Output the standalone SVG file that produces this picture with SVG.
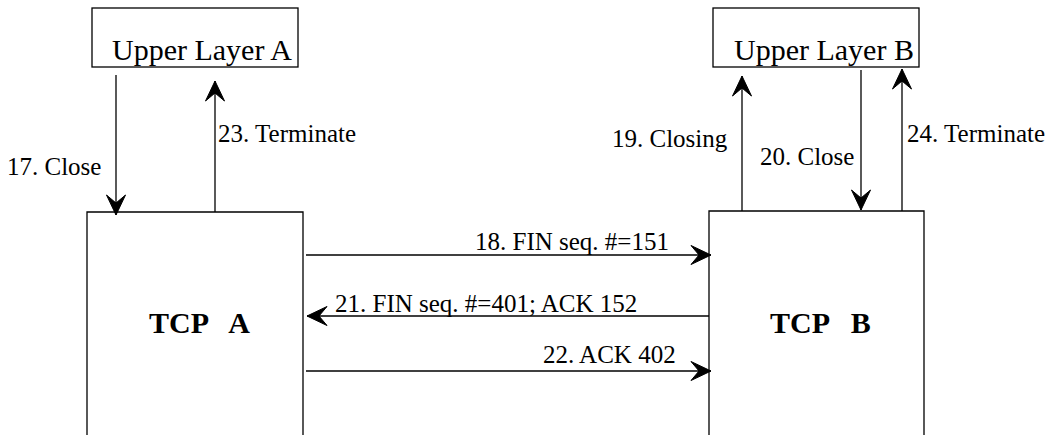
<svg xmlns="http://www.w3.org/2000/svg" width="1057" height="435" viewBox="0 0 1057 435">
<style>
.box{fill:none;stroke:#000;stroke-width:1.3}
.ln{fill:none;stroke:#000;stroke-width:1.3;marker-end:url(#ah)}
.lbl{font-family:"Liberation Serif","Times New Roman",serif;font-size:25px;fill:#000}
.ul{font-family:"Liberation Serif","Times New Roman",serif;font-size:30px;fill:#000}
.tcp{font-family:"Liberation Serif","Times New Roman",serif;font-size:30px;font-weight:bold;fill:#000;white-space:pre}
</style>
<defs>
<marker id="ah" markerUnits="userSpaceOnUse" markerWidth="24" markerHeight="24" refX="21" refY="11" orient="auto" viewBox="0 0 24 22">
<path d="M1,1.5 L21,11 L1,20.5 L9,11 Z" fill="#000" stroke="#000" stroke-width="1" stroke-linejoin="miter"/>
</marker>
</defs>
<rect width="1057" height="435" fill="#fff"/>
<g id="upperA">
<rect class="box" x="92" y="8" width="206" height="59"/>
<text class="ul" x="112" y="60">Upper Layer A</text>
</g>
<g id="upperB">
<rect class="box" x="713" y="8" width="206" height="59"/>
<text class="ul" x="734" y="60">Upper Layer B</text>
</g>
<g id="tcpA">
<path class="box" d="M87,436 V212 H303 V436"/>
<text class="tcp" x="149" y="333" xml:space="preserve">TCP   A</text>
</g>
<g id="tcpB">
<path class="box" d="M709,436 V211 H924 V436"/>
<text class="tcp" x="770" y="333" xml:space="preserve">TCP   B</text>
</g>
<g id="connectors">
<line class="ln" x1="116" y1="75" x2="116" y2="215"/>
<line class="ln" x1="215" y1="212" x2="215" y2="81"/>
<line class="ln" x1="742" y1="211" x2="742" y2="76"/>
<line class="ln" x1="861" y1="70" x2="861" y2="210"/>
<line class="ln" x1="902" y1="211" x2="902" y2="69"/>
<line class="ln" x1="306" y1="255" x2="711" y2="255"/>
<line class="ln" x1="709" y1="316" x2="307" y2="316"/>
<line class="ln" x1="306" y1="371" x2="711" y2="371"/>
<text class="lbl" x="7" y="175">17. Close</text>
<text class="lbl" x="218" y="142">23. Terminate</text>
<text class="lbl" x="612" y="147">19. Closing</text>
<text class="lbl" x="760" y="165">20. Close</text>
<text class="lbl" x="907" y="142">24. Terminate</text>
<text class="lbl" x="475" y="250">18. FIN seq. #=151</text>
<text class="lbl" x="335" y="312">21. FIN seq. #=401; ACK 152</text>
<text class="lbl" x="543" y="363">22. ACK 402</text>
</g>
</svg>
